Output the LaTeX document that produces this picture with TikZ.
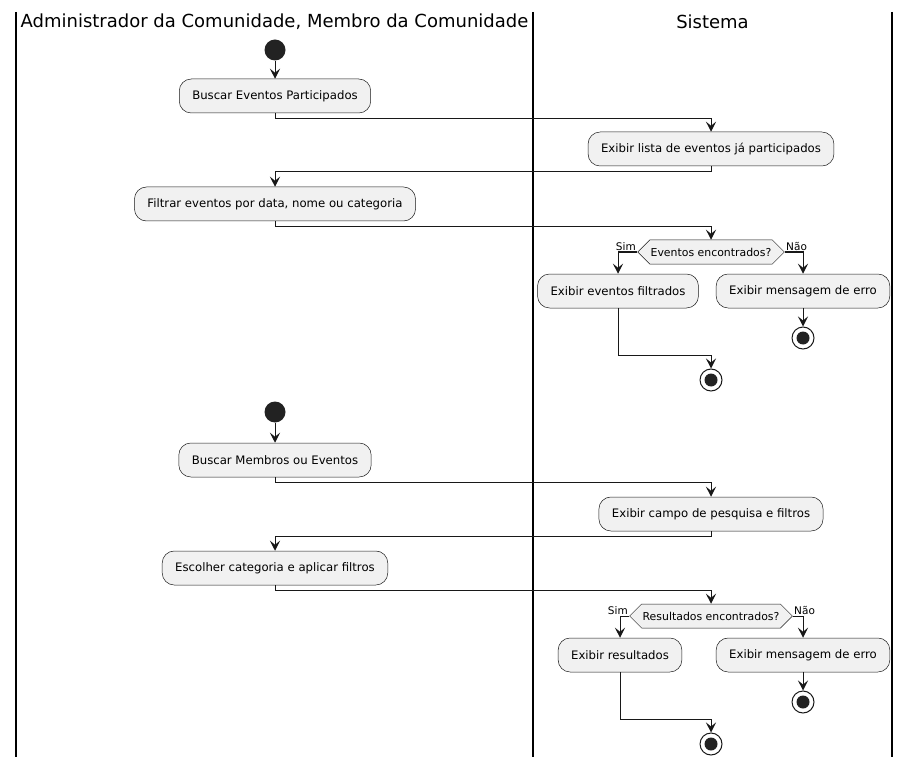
\documentclass[tikz,border=0pt]{standalone}
\usepackage{fontspec}
\setmainfont{DejaVu Sans}
\usepackage{tikz}
\usetikzlibrary{arrows.meta, positioning, shapes.symbols}
\definecolor{umlfill}{HTML}{F1F1F1}
\definecolor{umlline}{HTML}{181818}
\definecolor{umldot}{HTML}{222222}

\tikzset{
  action/.style={draw=umlline, fill=umlfill, rounded corners=12pt, line width=0.5pt, minimum height=34pt, inner xsep=13pt, font=\fontsize{11.7}{13}\selectfont},
  decision/.style={draw=umlline, fill=umlfill, shape=signal, signal to=west and east, signal pointer angle=90, line width=0.5pt, minimum height=24pt, inner xsep=1pt, inner ysep=2pt, font=\fontsize{10.9}{12}\selectfont},
  startdot/.style={circle, fill=umldot, minimum size=21pt, inner sep=0pt},
  enddot/.style={circle, draw=umlline, fill=white, line width=1pt, minimum size=22pt, inner sep=0pt, path picture={\fill[umldot] (path picture bounding box.center) circle (6.5pt);}},
  flow/.style={draw=umlline, line width=1pt, -{Stealth[length=10pt, width=10pt, inset=4pt]}},
  guard/.style={font=\fontsize{10.5}{12}\selectfont, inner sep=1pt},
  lane/.style={draw=black, line width=1.3pt},
  lanetitle/.style={font=\fontsize{18}{21}\selectfont}
}

\begin{document}
\begin{tikzpicture}[x=1pt, y=-1pt]
\useasboundingbox (0,0) rectangle (912,767);

% swimlanes
\draw[lane] (16,12) -- (16,757);
\draw[lane] (533,12) -- (533,757);
\draw[lane] (892,12) -- (892,757);
\node[lanetitle] (laneA) at (274.5,22) {Administrador da Comunidade, Membro da Comunidade};
\node[lanetitle] (laneB) at (712.5,22) {Sistema};

% eventos participados
\node[startdot] (s1) at (275,50) {};
\node[action] (b1) at (275,96) {Buscar Eventos Participados};
\node[action] (b2) at (711,149) {Exibir lista de eventos já participados};
\node[action] (b3) at (275,204) {Filtrar eventos por data, nome ou categoria};
\node[decision] (d1) at (711,252) {Eventos encontrados?};
\node[action] (b4) at (618,291) {Exibir eventos filtrados};
\node[action] (b5) at (803,291) {Exibir mensagem de erro};
\node[enddot] (e1) at (803,338) {};
\node[enddot] (e2) at (711,380) {};
\coordinate (m1) at (711,355);

\draw[flow] (s1) -- (b1);
\draw[flow] (b1.south) -- ++(0,5) -| (b2.north);
\draw[flow] (b2.south) -- ++(0,5) -| (b3.north);
\draw[flow] (b3.south) -- ++(0,5) -| (d1.north);
\draw[flow] (d1.west) node[guard, anchor=south east] {Sim} -| (b4.north);
\draw[flow] (d1.east) node[guard, anchor=south west] {Não} -| (b5.north);
\draw[flow] (b5) -- (e1);
\draw[flow] (b4.south) |- (m1) -- (e2.north);

% busca de membros
\node[startdot] (s2) at (275,412) {};
\node[action] (b6) at (275,460) {Buscar Membros ou Eventos};
\node[action] (b7) at (711,514) {Exibir campo de pesquisa e filtros};
\node[action] (b8) at (275,568) {Escolher categoria e aplicar filtros};
\node[decision] (d2) at (711,616) {Resultados encontrados?};
\node[action] (b9) at (620,655) {Exibir resultados};
\node[action] (b10) at (803,655) {Exibir mensagem de erro};
\node[enddot] (e3) at (803,702) {};
\node[enddot] (e4) at (711,744) {};
\coordinate (m2) at (711,719);

\draw[flow] (s2) -- (b6);
\draw[flow] (b6.south) -- ++(0,5) -| (b7.north);
\draw[flow] (b7.south) -- ++(0,5) -| (b8.north);
\draw[flow] (b8.south) -- ++(0,5) -| (d2.north);
\draw[flow] (d2.west) node[guard, anchor=south east] {Sim} -| (b9.north);
\draw[flow] (d2.east) node[guard, anchor=south west] {Não} -| (b10.north);
\draw[flow] (b10) -- (e3);
\draw[flow] (b9.south) |- (m2) -- (e4.north);
\end{tikzpicture}
\end{document}
